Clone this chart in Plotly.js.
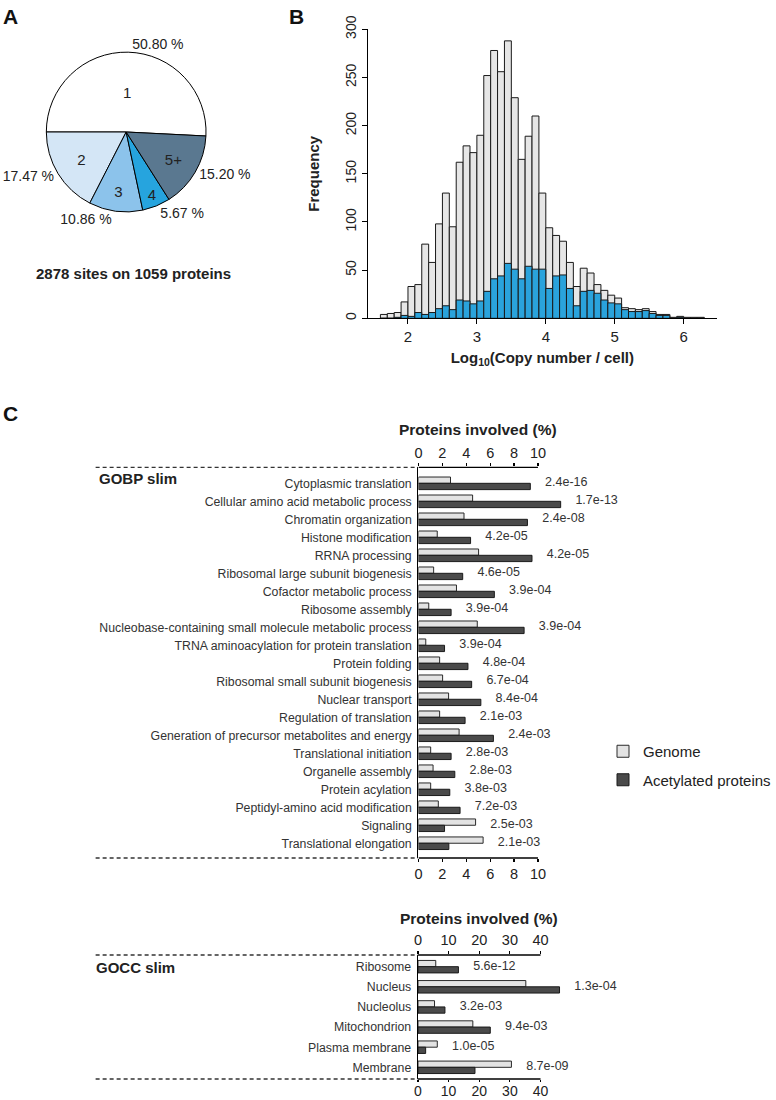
<!DOCTYPE html>
<html><head><meta charset="utf-8">
<script src="https://cdn.plot.ly/plotly-3.0.1.min.js"></script>
<style>html,body{margin:0;padding:0;background:#fff}#chart{width:776px;height:1100px}</style>
</head><body><div id="chart"></div>
<script>
// ---------- Panel A data ----------
const pieLabels = ['1', '2', '3', '4', '5+'];
const piePercents = [50.80, 17.47, 10.86, 5.67, 15.20];
const pieColors = ['#ffffff', '#d4e6f6', '#8cc3eb', '#26a4de', '#5a7890'];
const pieCaption = '2878 sites on 1059 proteins';

// ---------- Panel B data ----------
const binStarts = [1.6,1.7,1.8,1.9,2.0,2.1,2.2,2.3,2.4,2.5,2.6,2.7,2.8,2.9,3.0,3.1,3.2,3.3,3.4,3.5,3.6,3.7,3.8,3.9,
  4.0,4.1,4.2,4.3,4.4,4.5,4.6,4.7,4.8,4.9,5.0,5.1,5.2,5.3,5.4,5.5,5.6,5.7,5.8,5.9,6.0,6.1,6.2];
const genomeCounts = [4,5,6,17,33,35,77,58,98,130,95,162,179,172,190,252,278,256,288,229,165,189,210,130,
  94,86,80,58,33,52,47,35,29,24,21,11,10,9,10,7,4,4,1,2,1,1,1];
const acetylCounts = [0,0,1,3,2,6,4,6,10,13,9,19,18,15,18,28,41,44,57,51,41,54,51,51,
  31,44,45,31,13,28,29,26,19,16,15,9,7,7,8,5,3,3,0,1,0,0,0];
const histXTicks = [2, 3, 4, 5, 6];

// ---------- Panel C data ----------
const gobpTerms = ['Cytoplasmic translation','Cellular amino acid metabolic process','Chromatin organization',
  'Histone modification','RRNA processing','Ribosomal large subunit biogenesis','Cofactor metabolic process',
  'Ribosome assembly','Nucleobase-containing small molecule metabolic process','TRNA aminoacylation for protein translation',
  'Protein folding','Ribosomal small subunit biogenesis','Nuclear transport','Regulation of translation',
  'Generation of precursor metabolites and energy','Translational initiation','Organelle assembly','Protein acylation',
  'Peptidyl-amino acid modification','Signaling','Translational elongation'];
const gobpGenome = [2.68,4.53,3.81,1.57,5.03,1.27,3.18,0.86,4.92,0.61,1.77,2.02,2.52,1.77,3.40,1.02,1.22,1.02,1.66,4.78,5.41];
const gobpAcetyl = [9.36,11.9,9.12,4.36,9.50,3.70,6.35,2.73,8.84,2.18,4.14,4.45,5.22,3.90,6.27,2.73,3.04,2.62,3.48,2.18,2.54];
const gobpP = ['2.4e-16','1.7e-13','2.4e-08','4.2e-05','4.2e-05','4.6e-05','3.9e-04','3.9e-04','3.9e-04','3.9e-04',
  '4.8e-04','6.7e-04','8.4e-04','2.1e-03','2.4e-03','2.8e-03','2.8e-03','3.8e-03','7.2e-03','2.5e-03','2.1e-03'];
const gobpTicks = [0, 2, 4, 6, 8, 10];

const goccTerms = ['Ribosome','Nucleus','Nucleolus','Mitochondrion','Plasma membrane','Membrane'];
const goccGenome = [5.8,35.2,5.4,17.9,6.3,30.5];
const goccAcetyl = [13.2,46.2,8.8,23.6,2.5,18.6];
const goccP = ['5.6e-12','1.3e-04','3.2e-03','9.4e-03','1.0e-05','8.7e-09'];
const goccTicks = [0, 10, 20, 30, 40];

const seriesNames = ['Genome', 'Acetylated proteins'];
const axisTitleC = 'Proteins involved (%)';

// ---------- helpers ----------
const W = 776, H = 1100;
const px = v => v / W;
const py = v => 1 - v / H;
const FONT = 'Liberation Sans, Arial, Helvetica, sans-serif';
const txt = '#222';
const lightGrey = '#e3e3e3', darkGrey = '#4a4a4a', histGrey = '#e6e6e6', histBlue = '#2aa3dc';

const traces = [];

// Panel A: pie with inside labels
const pieDomain = {x: [px(47), px(209)], y: [py(213), py(51)]};
traces.push({
  type: 'pie', labels: pieLabels, values: piePercents, sort: false,
  direction: 'counterclockwise', rotation: -90,
  marker: {colors: pieColors, line: {color: '#000', width: 1}},
  textinfo: 'label', textposition: 'inside', insidetextorientation: 'horizontal',
  insidetextfont: {family: FONT, size: 15, color: txt},
  domain: pieDomain, showlegend: false, hoverinfo: 'none'
});
// outside percentage labels
traces.push({
  type: 'pie', labels: pieLabels, values: piePercents, sort: false,
  direction: 'counterclockwise', rotation: -90,
  marker: {colors: pieLabels.map(() => 'rgba(0,0,0,0)'), line: {width: 0}},
  texttemplate: '%{value:.2f} %', textposition: 'outside',
  outsidetextfont: {family: FONT, size: 14, color: txt},
  domain: pieDomain, showlegend: false, hoverinfo: 'none'
});

// Panel B: overlaid histograms
traces.push({
  type: 'bar', x: binStarts, y: genomeCounts, width: 0.1, offset: 0,
  marker: {color: histGrey, line: {color: '#1a1a1a', width: 1}},
  xaxis: 'x', yaxis: 'y', showlegend: false, hoverinfo: 'none'
});
traces.push({
  type: 'bar', x: binStarts, y: acetylCounts, width: 0.1, offset: 0,
  marker: {color: histBlue, line: {color: '#1a1a1a', width: 1}},
  xaxis: 'x', yaxis: 'y', showlegend: false, hoverinfo: 'none'
});

// Panel C
function goBars(terms, gen, ac, pv, xa, xb, ya, legend, bw) {
  traces.push({
    type: 'bar', orientation: 'h', y: terms, x: gen, width: bw, offset: -bw,
    marker: {color: lightGrey, line: {color: '#2a2a2a', width: 1}},
    name: seriesNames[0], legendgroup: 'g', showlegend: legend,
    xaxis: xa, yaxis: ya, hoverinfo: 'none'
  });
  traces.push({
    type: 'bar', orientation: 'h', y: terms, x: ac, width: bw, offset: 0,
    marker: {color: darkGrey, line: {color: '#1a1a1a', width: 1}},
    name: seriesNames[1], legendgroup: 'a', showlegend: legend,
    xaxis: xa, yaxis: ya, hoverinfo: 'none'
  });
  traces.push({
    type: 'scatter', mode: 'markers+text', y: terms, x: gen.map((g, i) => Math.max(g, ac[i])),
    text: pv, textposition: 'middle right', cliponaxis: false,
    textfont: {family: FONT, size: 12.5, color: '#333'},
    marker: {size: 22, color: 'rgba(0,0,0,0)', line: {width: 0}},
    xaxis: xb, yaxis: ya, showlegend: false, hoverinfo: 'none'
  });
}
goBars(gobpTerms, gobpGenome, gobpAcetyl, gobpP, 'x2', 'x3', 'y2', true, 0.35);
goBars(goccTerms, goccGenome, goccAcetyl, goccP, 'x4', 'x5', 'y3', false, 0.31);

function valAxis(extra) {
  return Object.assign({
    showline: false, ticks: 'outside', ticklen: 3, tickcolor: '#000', tickwidth: 1.2,
    showgrid: false, zeroline: false, fixedrange: true,
    tickfont: {family: FONT, size: 14.5, color: txt}
  }, extra);
}
function catAxis(domain, range, anchor) {
  return {
    domain: domain, type: 'category', range: range, anchor: anchor,
    showline: true, linecolor: '#000', linewidth: 1.3, ticks: '', showgrid: false, zeroline: false,
    ticklabelstandoff: 3, tickfont: {family: FONT, size: 12.3, color: '#333'}
  };
}

// 0..10 spans 424.5..545.7 px ; 0..40 spans 424..548.3 px
const gobpPerUnit = (545.7 - 424.5) / 10;
const goccPerUnit = (548.3 - 424) / 40;
const gobpMax = 12.6, goccMax = 48;
const gobpXdom = [px(424.5), px(424.5 + gobpPerUnit * gobpMax)];
const goccXdom = [px(424), px(424 + goccPerUnit * goccMax)];

const dashed = {color: '#333', width: 1.3, dash: '4px,3px'};
const axLine = {color: '#000', width: 1.3};

const layout = {
  width: W, height: H, autosize: false,
  margin: {l: 0, r: 0, t: 0, b: 0, pad: 0},
  paper_bgcolor: '#fff', plot_bgcolor: 'rgba(0,0,0,0)',
  barmode: 'overlay', bargap: 0,
  font: {family: FONT, color: txt},
  xaxis: {
    domain: [px(373.3), px(727)], range: [1.42, 6.48], anchor: 'y',
    tickvals: histXTicks, ticks: 'outside', ticklen: 5, tickcolor: '#000',
    showline: true, linecolor: '#000', linewidth: 1, showgrid: false, zeroline: false,
    tickfont: {family: FONT, size: 15, color: txt},
    title: {text: 'Log<sub>10</sub>(Copy number / cell)', font: {family: FONT, size: 15, color: txt, weight: 'bold'}, standoff: 8}
  },
  yaxis: {
    domain: [py(318.3), py(29.3)], range: [0, 300], anchor: 'x', dtick: 50,
    ticks: 'outside', ticklen: 5, tickcolor: '#000', tickangle: -90,
    showline: true, linecolor: '#000', linewidth: 1, showgrid: false, zeroline: false,
    tickfont: {family: FONT, size: 14, color: txt},
    title: {text: 'Frequency', font: {family: FONT, size: 15, color: txt, weight: 'bold'}, standoff: 20}
  },
  xaxis2: valAxis({domain: gobpXdom, range: [0, gobpMax], tickvals: gobpTicks, side: 'top', anchor: 'y2'}),
  xaxis3: valAxis({overlaying: 'x2', range: [0, gobpMax], tickvals: gobpTicks, side: 'bottom', anchor: 'y2'}),
  yaxis2: catAxis([py(858), py(467.3)], [20.82, -0.89], 'x2'),
  xaxis4: valAxis({domain: goccXdom, range: [0, goccMax], tickvals: goccTicks, side: 'top', anchor: 'y3'}),
  xaxis5: valAxis({overlaying: 'x4', range: [0, goccMax], tickvals: goccTicks, side: 'bottom', anchor: 'y3',
    ticklen: 2, ticklabelstandoff: -3, tickfont: {family: FONT, size: 14, color: txt}}),
  yaxis3: catAxis([py(1079), py(955)], [5.58, -0.58], 'x4'),
  legend: {
    x: px(612), y: py(735), xanchor: 'left', yanchor: 'top',
    font: {family: FONT, size: 15, color: txt}, bgcolor: 'rgba(0,0,0,0)',
    traceorder: 'grouped', tracegroupgap: 6, itemwidth: 30
  },
  shapes: [
    {type: 'line', xref: 'paper', yref: 'y2 domain', x0: px(97), x1: px(424), y0: 1, y1: 1, line: dashed},
    {type: 'line', xref: 'paper', yref: 'y2 domain', x0: px(97), x1: px(424), y0: 0, y1: 0, line: dashed},
    {type: 'line', xref: 'paper', yref: 'y3 domain', x0: px(97), x1: px(424), y0: 1, y1: 1, line: dashed},
    {type: 'line', xref: 'paper', yref: 'y3 domain', x0: px(97), x1: px(424), y0: 0, y1: 0, line: dashed},
    {type: 'line', xref: 'x2', yref: 'y2 domain', x0: gobpTicks[0], x1: gobpTicks[gobpTicks.length - 1], y0: 1, y1: 1, line: axLine},
    {type: 'line', xref: 'x2', yref: 'y2 domain', x0: gobpTicks[0], x1: gobpTicks[gobpTicks.length - 1], y0: 0, y1: 0, line: axLine},
    {type: 'line', xref: 'x4', yref: 'y3 domain', x0: goccTicks[0], x1: goccTicks[goccTicks.length - 1], y0: 1, y1: 1, line: axLine},
    {type: 'line', xref: 'x4', yref: 'y3 domain', x0: goccTicks[0], x1: goccTicks[goccTicks.length - 1], y0: 0, y1: 0, line: axLine}
  ],
  annotations: [
    {text: '<b>A</b>', x: px(1), y: py(3), xref: 'paper', yref: 'paper', xanchor: 'left', yanchor: 'top', showarrow: false, font: {family: FONT, size: 21, color: '#111'}},
    {text: '<b>B</b>', x: px(291), y: py(3), xref: 'paper', yref: 'paper', xanchor: 'left', yanchor: 'top', showarrow: false, font: {family: FONT, size: 21, color: '#111'}},
    {text: '<b>C</b>', x: px(1), y: py(400), xref: 'paper', yref: 'paper', xanchor: 'left', yanchor: 'top', showarrow: false, font: {family: FONT, size: 21, color: '#111'}},
    {text: '<b>' + pieCaption + '</b>', x: px(135), y: py(274), xref: 'paper', yref: 'paper', xanchor: 'center', yanchor: 'middle', showarrow: false, font: {family: FONT, size: 15, color: txt}},
    {text: '<b>GOBP slim</b>', x: px(98), y: py(478), xref: 'paper', yref: 'paper', xanchor: 'left', yanchor: 'middle', showarrow: false, font: {family: FONT, size: 15, color: txt}},
    {text: '<b>GOCC slim</b>', x: px(95), y: py(967), xref: 'paper', yref: 'paper', xanchor: 'left', yanchor: 'middle', showarrow: false, font: {family: FONT, size: 15, color: txt}},
    {text: '<b>' + axisTitleC + '</b>', x: 5, xref: 'x2', y: py(429), yref: 'paper', xanchor: 'center', yanchor: 'middle', showarrow: false, font: {family: FONT, size: 15.5, color: txt}},
    {text: '<b>' + axisTitleC + '</b>', x: 20, xref: 'x4', y: py(918), yref: 'paper', xanchor: 'center', yanchor: 'middle', showarrow: false, font: {family: FONT, size: 15.5, color: txt}}
  ]
};

Plotly.newPlot('chart', traces, layout, {staticPlot: true, displayModeBar: false});
</script>
</body></html>
